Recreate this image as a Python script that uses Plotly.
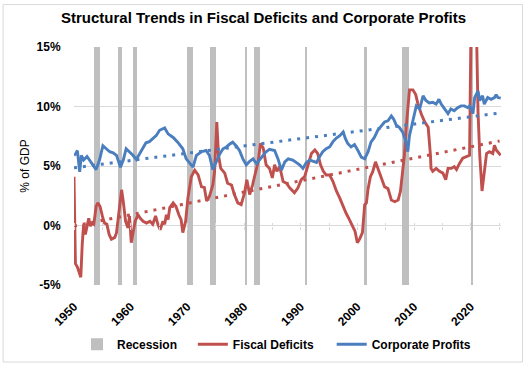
import plotly.graph_objects as go

# ---------------- data ----------------
rec_start = [1953.5, 1957.75, 1960.4, 1970.0, 1974.0, 1980.25, 1981.7, 1990.7, 2001.1, 2007.85, 2020.0]
rec_end   = [1954.5, 1958.45, 1961.2, 1970.95, 1975.1, 1980.6, 1982.9, 1991.1, 2001.75, 2009.2, 2020.4]

profit_years = [1950.0, 1950.25, 1950.6, 1951.0, 1951.3, 1951.7, 1952.3, 1952.7, 1953.2, 1953.9,
                1954.5, 1955.1, 1955.7, 1956.3, 1956.9, 1957.5, 1958.2, 1958.7, 1959.2, 1959.8,
                1960.4, 1961.0, 1961.5, 1962.1, 1962.7, 1963.3, 1963.9, 1964.5, 1965.1, 1965.7,
                1966.0, 1966.6, 1967.5, 1968.3, 1969.2, 1969.8, 1970.4, 1971.0, 1971.6, 1972.5,
                1973.3, 1973.9, 1974.5, 1975.1, 1975.7, 1976.3, 1976.9, 1977.5, 1978.0, 1978.6,
                1979.2, 1979.8, 1980.4, 1981.0, 1981.6, 1982.2, 1982.8, 1983.4, 1983.9, 1984.5,
                1985.4, 1986.0, 1986.6, 1987.2, 1987.8, 1988.6, 1989.2, 1989.8, 1990.4, 1991.0,
                1991.6, 1992.2, 1992.8, 1993.3, 1993.9, 1994.5, 1995.1, 1995.7, 1996.3, 1996.9,
                1997.5, 1997.9, 1998.3, 1998.9, 1999.5, 2000.1, 2000.7, 2001.3, 2001.9, 2002.4,
                2003.0, 2003.6, 2004.2, 2004.8, 2005.4, 2006.0, 2006.4, 2006.9, 2007.4, 2008.0,
                2008.6, 2008.9, 2009.2, 2009.8, 2010.4, 2011.0, 2011.6, 2012.1, 2012.7, 2013.3,
                2013.9, 2014.4, 2014.8, 2015.4, 2016.0, 2016.5, 2017.1, 2017.7, 2018.3, 2018.9,
                2019.5, 2019.8, 2020.1, 2020.4, 2020.7, 2021.3, 2021.6, 2022.1, 2022.4, 2023.0,
                2023.6, 2024.2, 2024.5, 2024.8, 2025.3]
profit_values = [5.9, 6.0, 6.3, 4.5, 5.9, 5.5, 5.8, 5.5, 5.2, 4.7,
                 5.5, 6.7, 6.45, 6.2, 6.1, 5.9, 4.9, 5.5, 6.45, 6.2,
                 5.9, 5.55, 6.0, 6.45, 6.95, 7.05, 7.3, 7.55, 8.0, 8.1,
                 8.2, 7.7, 7.4, 7.0, 6.45, 5.6, 5.2, 4.9, 5.9, 6.2,
                 6.3, 5.9, 4.7, 5.35, 6.0, 6.45, 6.6, 6.85, 7.0, 6.7,
                 6.3, 5.6, 5.1, 5.4, 5.6, 5.2, 5.6, 5.9, 6.2, 6.4,
                 6.3, 5.6, 4.65, 5.35, 5.6, 5.5, 5.3, 5.1, 4.8, 5.3,
                 5.5, 5.4, 5.3, 5.75, 6.2, 6.45, 6.6, 7.05, 7.35, 7.55,
                 7.85, 7.3, 6.9, 6.6, 6.8, 6.3, 5.75, 5.6, 6.2, 7.0,
                 7.4, 8.0, 8.4, 8.7, 8.8, 9.2, 8.95, 8.4, 8.25, 7.85,
                 7.0, 6.2, 7.55, 8.7, 10.05, 9.8, 10.9, 10.5, 10.3, 10.35,
                 10.2, 10.6, 10.2, 9.8, 9.4, 9.8, 9.65, 9.9, 10.05, 10.05,
                 9.9, 10.05, 9.8, 9.4, 10.75, 11.3, 10.5, 10.9, 10.2, 10.75,
                 10.6, 10.75, 11.0, 10.75, 10.7]

deficit_years = [1950.0, 1950.25, 1950.6, 1951.2, 1951.45, 1951.7, 1952.0, 1952.3, 1952.6, 1952.9,
                 1953.2, 1953.5, 1953.9, 1954.2, 1954.6, 1955.1, 1955.4, 1955.8, 1956.2, 1956.6,
                 1957.2, 1957.5, 1958.0, 1958.4, 1958.7, 1959.1, 1959.5, 1959.8, 1960.1, 1960.4,
                 1960.8, 1961.3, 1961.7, 1962.2, 1962.8, 1963.4, 1963.9, 1964.4, 1964.8, 1965.2,
                 1965.7, 1966.0, 1966.3, 1966.6, 1966.9, 1967.5, 1968.0, 1968.5, 1968.9, 1969.2,
                 1969.7, 1970.1, 1970.7, 1971.3, 1971.9, 1972.5, 1973.0, 1973.4, 1973.9, 1974.5,
                 1974.8, 1975.2, 1975.5, 1975.9, 1976.6, 1977.1, 1977.8, 1978.3, 1978.9, 1979.5,
                 1980.1, 1980.5, 1981.0, 1981.5, 1981.9, 1982.5, 1982.9, 1983.4, 1983.9, 1984.5,
                 1985.0, 1985.4, 1985.8, 1986.3, 1986.9, 1987.5, 1988.1, 1988.9, 1989.5, 1990.1,
                 1990.7, 1991.3, 1991.9, 1992.5, 1993.0, 1993.5, 1994.0, 1994.5, 1995.1, 1995.7,
                 1996.3, 1996.9, 1997.5, 1998.0, 1998.6, 1999.2, 1999.6, 2000.0, 2000.4, 2000.9,
                 2001.3, 2001.6, 2001.9, 2002.3, 2002.7, 2003.2, 2003.6, 2004.2, 2004.8, 2005.4,
                 2006.0, 2006.6, 2007.2, 2007.6, 2007.9, 2008.3, 2008.6, 2008.9, 2009.2, 2009.8,
                 2010.3, 2010.7, 2011.3, 2011.9, 2012.5, 2012.9, 2013.0, 2013.3, 2013.9, 2014.5,
                 2015.1, 2015.6, 2016.0, 2016.6, 2017.1, 2017.5, 2018.0, 2018.6, 2019.2, 2019.8,
                 2020.25, 2020.5, 2020.75, 2021.0, 2021.3, 2021.6, 2022.0, 2022.4, 2022.8, 2023.3,
                 2023.9, 2024.2, 2024.5, 2025.3]
deficit_values = [4.1, -3.2, -3.5, -4.35, -1.6, 0.1, -0.75, 0.1, 0.6, -0.05,
                  0.2, 0.1, 1.6, 1.9, 1.6, 0.6, 0.2, 0.1, -0.75, -1.15,
                  -1.0, -0.6, 1.5, 3.0, 2.0, 0.36, -0.2, 0.8, -1.45, -0.5,
                  0.36, 0.9, 0.6, 0.36, 0.2, 0.36, 0.1, 0.8, 0.1, -0.35,
                  0.36, 0.1, 0.9, 0.5, 1.5, 1.9, 1.6, 0.9, 0.5, -0.6,
                  0.36, 2.3, 4.1, 4.65, 4.25, 3.25, 3.2, 2.05, 2.45, 3.4,
                  4.5, 8.7, 5.9, 4.8, 4.4, 3.55, 3.4, 2.6, 1.9, 1.75,
                  2.75, 3.85, 2.6, 3.4, 4.25, 5.35, 6.9, 6.5, 5.1, 4.8,
                  4.0, 5.1, 4.55, 4.95, 3.7, 3.55, 3.15, 2.75, 3.15, 3.85,
                  4.1, 5.1, 6.05, 6.35, 6.05, 5.1, 4.55, 4.25, 4.25, 3.7,
                  2.9, 2.3, 1.6, 1.05, 0.5, -0.05, -0.5, -1.45, -1.15, -0.6,
                  1.75, 1.9, 3.1, 4.1, 4.5, 5.35, 4.8, 4.1, 3.25, 3.1,
                  2.15, 2.0, 2.15, 2.85, 4.25, 5.9, 8.1, 9.8, 11.4, 11.4,
                  11.0, 10.2, 9.35, 8.7, 8.25, 5.9, 4.8, 4.55, 4.8, 4.55,
                  4.4, 3.85, 4.8, 4.8, 4.95, 4.7, 5.2, 5.65, 5.8, 5.9,
                  25.0, 16.0, 15.5, 17.0, 9.5, 5.9, 2.9, 4.55, 6.05, 6.2,
                  6.05, 6.75, 6.35, 5.9]

# linear trend lines (end points)
trend_years = [1950.0, 2025.1]
deficit_trend = [-0.05, 7.1]
profit_trend = [4.85, 9.45]

tick_years = [1950, 1960, 1970, 1980, 1990, 2000, 2010, 2020]
tick_labels = [str(y) for y in tick_years]
minor_ticks = list(range(1950, 2026, 5))
y_ticks = [-5, 0, 5, 10, 15]
y_tick_labels = ["-5%", "0%", "5%", "10%", "15%"]

RED = "#C0504D"
BLUE = "#4A7EBF"
GREY = "#BFBFBF"
GRID = "#D9D9D9"
FONT = "Liberation Sans, Arial, sans-serif"

fig = go.Figure()

fig.add_trace(go.Bar(
    x=[(a + b) / 2 for a, b in zip(rec_start, rec_end)],
    width=[b - a for a, b in zip(rec_start, rec_end)],
    y=[20] * len(rec_start), base=[-5] * len(rec_start),
    marker=dict(color=GREY, line=dict(width=0)),
    name="Recession", hoverinfo="skip", legend="legend",
))
fig.add_trace(go.Scatter(
    x=trend_years, y=deficit_trend, mode="lines", xaxis="x2",
    line=dict(color=RED, width=3, dash="3px,6px"), showlegend=False,
))
fig.add_trace(go.Scatter(
    x=trend_years, y=profit_trend, mode="lines", xaxis="x3",
    line=dict(color=BLUE, width=3, dash="3px,6px"), showlegend=False,
))
fig.add_trace(go.Scatter(
    x=deficit_years, y=deficit_values, mode="lines", name="Fiscal Deficits",
    line=dict(color=RED, width=2.9), legend="legend2",
))
fig.add_trace(go.Scatter(
    x=profit_years, y=profit_values, mode="lines", name="Corporate Profits",
    line=dict(color=BLUE, width=2.9), legend="legend3",
))

L, R, T, B = 74, 25.5, 47, 83
W, H = 527, 371
pw, ph = W - L - R, H - T - B

def px_x(x):
    return (x - L) / pw

def px_y(y):
    return (H - B - y) / ph

legend_font = dict(family=FONT, size=12, weight="bold")

def leg(xpix):
    return dict(orientation="h", x=px_x(xpix), xanchor="left",
                y=px_y(348), yanchor="middle", font=legend_font,
                bgcolor="rgba(0,0,0,0)")

fig.update_layout(
    width=W, height=H,
    margin=dict(l=L, r=R, t=T, b=B),
    paper_bgcolor="white", plot_bgcolor="white",
    font=dict(family=FONT, size=12, color="#000000"),
    title=dict(text="<b>Structural Trends in Fiscal Deficits and Corporate Profits</b>",
               x=0.5, xanchor="center", xref="container",
               y=1 - 18 / H, yanchor="middle", yref="container",
               font=dict(family=FONT, size=15, color="#000000")),
    bargap=0,
    xaxis=dict(range=[1950, 2025.35], tickvals=tick_years, ticktext=tick_labels,
               tickangle=-45, showgrid=False, zeroline=False, showline=False,
               ticks="outside", ticklen=9, tickcolor="rgba(0,0,0,0)",
               automargin=False,
               tickfont=dict(family=FONT, size=12, weight="bold")),
    xaxis2=dict(matches="x", overlaying="x", anchor="free", position=0.25,
                side="bottom", tickvals=minor_ticks, showticklabels=False,
                ticks="outside", ticklen=3, tickcolor=GRID, showgrid=False,
                zeroline=False, showline=False, automargin=False),
    xaxis3=dict(matches="x", overlaying="x", anchor="free", position=0.25,
                side="top", tickvals=minor_ticks, showticklabels=False,
                ticks="outside", ticklen=3, tickcolor=GRID, showgrid=False,
                zeroline=False, showline=False, automargin=False),
    yaxis=dict(range=[-5, 15], tickvals=y_ticks, ticktext=y_tick_labels,
               showgrid=True, gridcolor=GRID, gridwidth=1, zeroline=False,
               ticks="outside", ticklen=10, tickcolor="rgba(0,0,0,0)",
               automargin=False,
               tickfont=dict(family=FONT, size=12, weight="bold"),
               title=dict(text="% of GDP", standoff=4,
                          font=dict(family=FONT, size=12))),
    legend=leg(77),
    legend2=leg(193),
    legend3=leg(332),
    shapes=[dict(type="rect", xref="paper", yref="paper",
                 x0=px_x(3), x1=px_x(523), y0=px_y(366), y1=px_y(4),
                 line=dict(color=GRID, width=1), layer="below")],
)

fig.write_html("out.html", config={"displayModeBar": False},
               post_script="document.body.style.margin='0px';")
